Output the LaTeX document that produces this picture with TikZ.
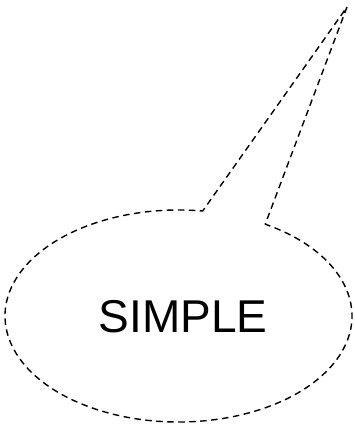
\documentclass[tikz,border=0pt]{standalone}
\usepackage{fontspec}
\setmainfont{Liberation Sans}
\usetikzlibrary{calc}
\begin{document}
\begin{tikzpicture}[x=1pt,y=1pt,
  outline/.style={draw=black,line width=1.4pt,dash pattern=on 6.5pt off 4.5pt,line join=round},
  label/.style={font=\fontsize{46}{46}\selectfont,inner sep=0pt}]
\useasboundingbox (0,0) rectangle (355,424);
\coordinate (c) at (178.5,108);
\coordinate (tip) at (347,417);
\node[label] (txt) at (183,107) {SIMPLE};
\draw[outline] (tip) -- ($(c)+(60:173.5 and 106)$) arc[start angle=60,end angle=-278,x radius=173.5,y radius=106] -- cycle;
\end{tikzpicture}
\end{document}
